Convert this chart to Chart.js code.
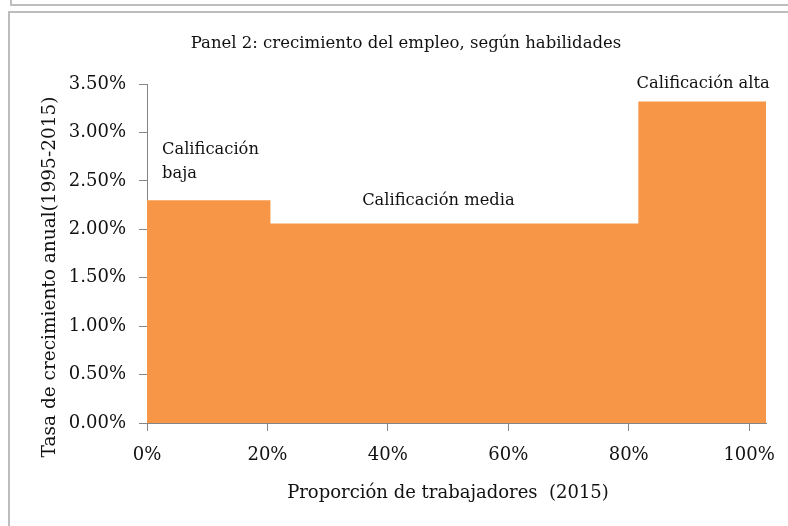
<!DOCTYPE html>
<html>
<head>
<meta charset="utf-8">
<script src="https://cdn.jsdelivr.net/npm/chart.js@4"></script>
<style>
  html, body { margin: 0; padding: 0; background: #fff; }
  #wrap { position: relative; width: 788px; height: 526px; overflow: hidden; }
  .box { position: absolute; border: 2px solid #bdbdbd; box-sizing: border-box; }
  canvas { position: absolute; left: 0; top: 0; }
</style>
</head>
<body>
<div id="wrap">
  <div class="box" style="left:10px; top:-20px; width:800px; height:26px;"></div>
  <div class="box" style="left:8px; top:11px; width:800px; height:560px;"></div>
  <canvas id="chart" width="788" height="526"></canvas>
</div>
<script>
// datos del panel 2
const groups = ['Calificación baja', 'Calificación media', 'Calificación alta'];
const shareEdges = [0, 20.5, 81.6, 102.8];   // proporción acumulada de trabajadores (%)
const growth = [2.30, 2.06, 3.32];            // tasa de crecimiento anual (%)
const xTicks = [0, 20, 40, 60, 80, 100];
const yTicks = [0, 0.5, 1, 1.5, 2, 2.5, 3, 3.5];

const ORANGE = '#f79646';
const AXIS = '#868686';
const FONT = '"DejaVu Serif", serif';

// escalones: cada borde izquierdo lleva el valor de su grupo
const stepPoints = shareEdges.map((x, i) => ({ x, y: growth[Math.min(i, growth.length - 1)] }));

const labelsPlugin = {
  id: 'panelLabels',
  afterDatasetsDraw(chart) {
    const { ctx } = chart;
    const xs = chart.scales.x, ys = chart.scales.y;
    ctx.save();
    ctx.fillStyle = '#111';
    ctx.textBaseline = 'alphabetic';

    // titulo
    ctx.font = '16.5px ' + FONT;
    ctx.textAlign = 'center';
    ctx.fillText('Panel 2: crecimiento del empleo, según habilidades', 406, 48);

    // etiquetas de grupo
    ctx.font = '16.3px ' + FONT;
    const x0 = xs.getPixelForValue(shareEdges[0]);
    const y0 = ys.getPixelForValue(growth[0]);
    ctx.textAlign = 'left';
    const lowParts = groups[0].split(' ');
    ctx.fillText(lowParts[0], x0 + 15, y0 - 46);
    ctx.fillText(lowParts[1], x0 + 15, y0 - 22);

    ctx.textAlign = 'center';
    const xm = (xs.getPixelForValue(shareEdges[1]) + xs.getPixelForValue(shareEdges[2])) / 2;
    ctx.fillText(groups[1], xm - 16, ys.getPixelForValue(growth[1]) - 18);

    const xh = (xs.getPixelForValue(shareEdges[2]) + xs.getPixelForValue(shareEdges[3])) / 2;
    ctx.fillText(groups[2], xh + 1, ys.getPixelForValue(growth[2]) - 13);

    // titulos de ejes
    ctx.font = '18px ' + FONT;
    ctx.fillText('Proporción de trabajadores  (2015)', 448, 498);

    ctx.font = '18.5px ' + FONT;
    ctx.translate(55, 277);
    ctx.rotate(-Math.PI / 2);
    ctx.fillText('Tasa de crecimiento anual(1995-2015)', 0, 0);
    ctx.restore();
  }
};

new Chart(document.getElementById('chart'), {
  type: 'line',
  data: {
    datasets: [{
      data: stepPoints,
      stepped: 'before',
      fill: 'origin',
      backgroundColor: ORANGE,
      borderColor: ORANGE,
      borderWidth: 0,
      pointRadius: 0
    }]
  },
  options: {
    responsive: false,
    animation: false,
    layout: { padding: { top: 84, right: 22, left: 0, bottom: 0 } },
    plugins: { legend: { display: false }, tooltip: { enabled: false } },
    scales: {
      x: {
        type: 'linear',
        min: shareEdges[0],
        max: shareEdges[shareEdges.length - 1],
        afterBuildTicks: s => { s.ticks = xTicks.map(v => ({ value: v })); },
        afterFit: s => { s.height = 103; s.paddingLeft = 0; s.paddingRight = 0; },
        grid: { drawOnChartArea: false, drawTicks: true, tickLength: 8, color: AXIS },
        border: { color: AXIS, width: 1 },
        ticks: {
          color: '#111',
          font: { family: FONT, size: 18 },
          padding: 14,
          maxRotation: 0,
          callback: v => v + '%'
        }
      },
      y: {
        min: yTicks[0],
        max: yTicks[yTicks.length - 1],
        afterBuildTicks: s => { s.ticks = yTicks.map(v => ({ value: v })); },
        afterFit: s => { s.width = 147; },
        grid: { drawOnChartArea: false, drawTicks: true, tickLength: 8, color: AXIS },
        border: { color: AXIS, width: 1 },
        ticks: {
          color: '#111',
          font: { family: FONT, size: 18 },
          padding: 13,
          callback: v => v.toFixed(2) + '%'
        }
      }
    }
  },
  plugins: [labelsPlugin]
});
</script>
</body>
</html>
